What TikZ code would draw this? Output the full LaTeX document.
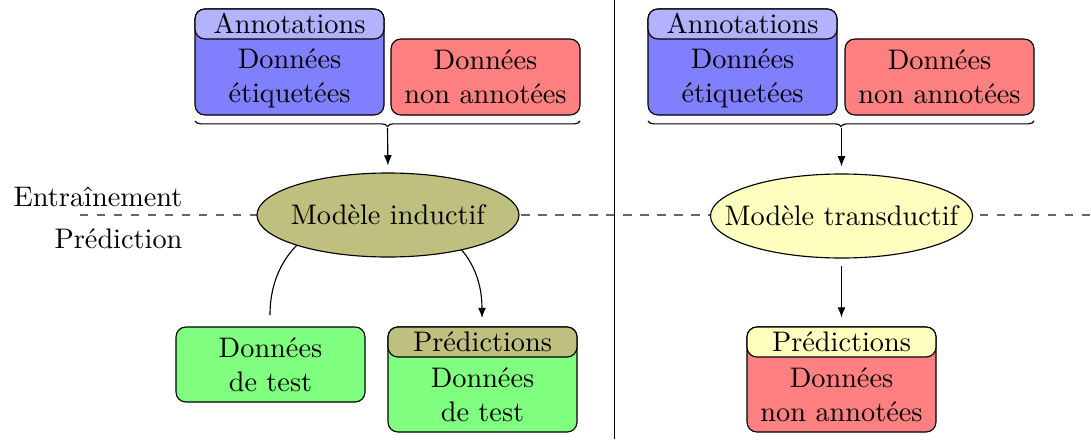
\documentclass[tikz,border=0pt]{standalone}
\usetikzlibrary{shapes.geometric,arrows.meta,decorations.pathreplacing}
\newlength{\unitpx}
\setlength{\unitpx}{0.3534pt}
\definecolor{olivefill}{RGB}{191,191,128}
\definecolor{yellowfill}{RGB}{255,255,191}
\begin{document}
\begin{tikzpicture}[x=\unitpx,y=-\unitpx,
  rbox/.style={draw,rounded corners=3.5pt,inner sep=0pt,align=center},
  modl/.style={draw,ellipse,inner sep=0pt,minimum width=262\unitpx,minimum height=84\unitpx},
  txt/.style={inner sep=0pt,align=center},
  arr/.style={-{Latex[length=3.6pt,width=2.8pt]}},
  bracestyle/.style={decorate,decoration={brace,amplitude=2pt}},
  sep/.style={dashed,draw=black!60}]
\useasboundingbox (0,0) rectangle (1091,439);

% separators
\coordinate (dl) at (80,215);
\coordinate (dr) at (1091,215);
\draw[sep] (dl) -- (dr);
\coordinate (vt) at (614.5,0);
\coordinate (vb) at (614.5,439);
\draw (vt) -- (vb);
\node[txt,anchor=base east] (train) at (183,206) {Entraînement};
\node[txt,anchor=base east] (pred) at (183,248) {Prédiction};

% ---------- left: inductive ----------
\node[rbox,fill=blue!50,minimum width=189\unitpx,minimum height=106\unitpx] (lab1) at (289.5,62) {};
\node[rbox,fill=blue!30,minimum width=189\unitpx,minimum height=30\unitpx] (ann1) at (289.5,24) {Annotations};
\node[txt] (lab1t) at (289.5,78) {Données\\étiquetées};
\node[rbox,fill=red!50,minimum width=189\unitpx,minimum height=76\unitpx] (nl1) at (485.5,77) {Données\\non annotées};
\coordinate (b1r) at (580,121);
\coordinate (b1l) at (195,121);
\coordinate (b1t) at (387.5,128);
\draw[bracestyle] (b1r) -- (b1l);

\coordinate (c1s) at (270,315);
\coordinate (c1e) at (482,318);
\draw[arr] (c1s) .. controls (270,180) and (482,183) .. (c1e);

\node[modl,fill=olivefill] (ind) at (388,215) {};
\node[txt] (indt) at (ind.center) {Modèle inductif};
\draw[arr,shorten >=7\unitpx] (b1t) -- (ind.north);

\node[rbox,fill=green!50,minimum width=189\unitpx,minimum height=75\unitpx] (test1) at (270.5,364.5) {Données\\de test};
\node[rbox,fill=green!50,minimum width=189\unitpx,minimum height=105\unitpx] (pt1) at (482.5,379.5) {};
\node[rbox,fill=olivefill,minimum width=189\unitpx,minimum height=30\unitpx] (ph1) at (482.5,342) {Prédictions};
\node[txt] (pt1t) at (482.5,395) {Données\\de test};

% ---------- right: transductive ----------
\node[rbox,fill=blue!50,minimum width=189\unitpx,minimum height=106\unitpx] (lab2) at (742.5,62) {};
\node[rbox,fill=blue!30,minimum width=189\unitpx,minimum height=30\unitpx] (ann2) at (742.5,24) {Annotations};
\node[txt] (lab2t) at (742.5,78) {Données\\étiquetées};
\node[rbox,fill=red!50,minimum width=189\unitpx,minimum height=76\unitpx] (nl2) at (939.5,77) {Données\\non annotées};
\coordinate (b2r) at (1034,121);
\coordinate (b2l) at (648,121);
\coordinate (b2t) at (841.5,128);
\draw[bracestyle] (b2r) -- (b2l);

\node[modl,fill=yellowfill] (trd) at (841.5,216) {};
\node[txt] (trdt) at (trd.center) {Modèle transductif};
\draw[arr,shorten >=7\unitpx] (b2t) -- (trd.north);

\node[rbox,fill=red!50,minimum width=189\unitpx,minimum height=105\unitpx] (pt2) at (841.5,379.5) {};
\node[rbox,fill=yellowfill,minimum width=189\unitpx,minimum height=30\unitpx] (ph2) at (841.5,342) {Prédictions};
\node[txt] (pt2t) at (841.5,395) {Données\\non annotées};
\draw[arr,shorten <=7\unitpx,shorten >=9\unitpx] (trd.south) -- (ph2.north);
\end{tikzpicture}
\end{document}
